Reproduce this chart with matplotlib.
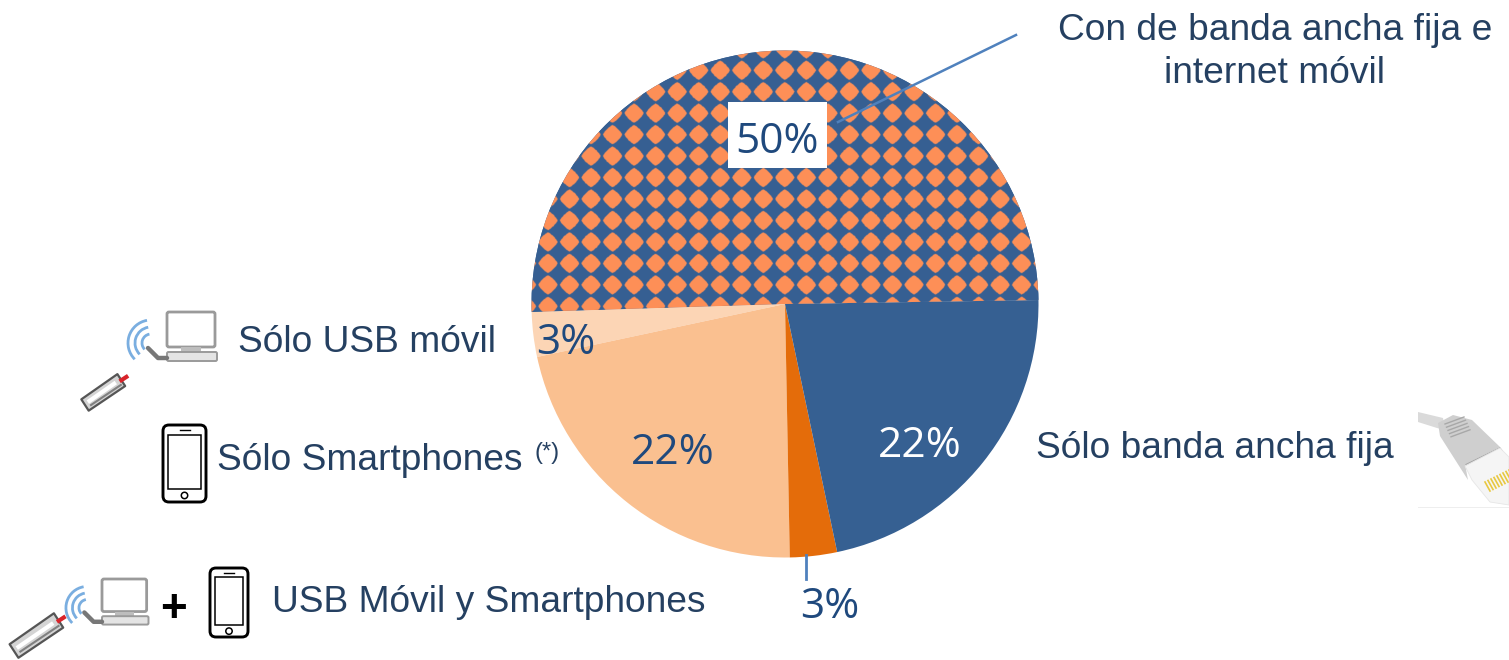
import matplotlib
matplotlib.use('Agg')
import matplotlib.pyplot as plt
import numpy as np
from matplotlib.colors import to_rgb
from matplotlib.patches import FancyBboxPatch, Polygon, Rectangle, Arc, Circle

# slice shares, counter clockwise from the right
shares = [50.25, 2.85, 21.95, 3.0, 21.95]
pct_labels = ['50%', '3%', '22%', '3%', '22%']
slice_colors = ['#366092', '#fcd5b5', '#fac090', '#e46c0a', '#366092']
category_labels = ['Con de banda ancha fija e\ninternet móvil', 'Sólo USB móvil', 'Sólo Smartphones',
                   'USB Móvil y Smartphones', 'Sólo banda ancha fija']

W, H = 1509, 660
BLUE = '#366092'
ORANGE = '#fd8f57'
TXT = '#254061'
PCT = '#1f497d'


def yy(py):
    # picture pixels count from the top, the axes from the bottom
    return H - py


def draw_phone(ax, x, y, w, h):
    lw = 2.1
    ax.add_patch(FancyBboxPatch((x + 5, yy(y + h) + 5), w - 10, h - 10, boxstyle='round,pad=5,rounding_size=6',
                                fc='white', ec='black', lw=lw, zorder=5))
    ax.add_patch(Rectangle((x + 5, yy(y + h * 0.83)), w - 10, h * 0.70, fc='white', ec='black', lw=1.1, zorder=6))
    ax.add_patch(Circle((x + w / 2, yy(y + h * 0.915)), 3.2, fc='white', ec='black', lw=1.1, zorder=6))
    ax.plot([x + w / 2 - 5, x + w / 2 + 5], [yy(y + h * 0.07)] * 2, color='black', lw=1, zorder=6)


def draw_pc(ax, x, y, s=1.0):
    # small desktop computer with its cable and wireless arcs, x, y is top left of the screen
    g = '#9a9a9a'
    ax.add_patch(FancyBboxPatch((x, yy(y + 35 * s)), 48 * s, 35 * s, boxstyle='round,pad=0,rounding_size=2',
                                fc='white', ec=g, lw=2, zorder=5))
    ax.add_patch(Rectangle((x + 14 * s, yy(y + 41 * s)), 20 * s, 6 * s, fc='#bdbdbd', ec='none', zorder=5))
    ax.add_patch(FancyBboxPatch((x, yy(y + 49 * s)), 50 * s, 9 * s, boxstyle='round,pad=0,rounding_size=1.5',
                                fc='#e4e4e4', ec=g, lw=1.4, zorder=5))
    ax.plot([x - 19 * s, x - 9 * s, x], [yy(y + 36 * s), yy(y + 46 * s), yy(y + 46 * s)],
            color='#777777', lw=3.2, solid_capstyle='round', zorder=5)
    for r in (9, 16, 23):
        ax.add_patch(Arc((x - 19 * s + 3, yy(y + 31 * s)), 2 * r * s, 2 * r * s, theta1=100, theta2=225,
                         color='#7aaee0', lw=2, zorder=5))


def draw_usb(ax, x, y, length, thick):
    # stick drawn along a line going up right from its lower left end
    a = np.radians(33)
    u = np.array([np.cos(a), np.sin(a)])
    v = np.array([-u[1], u[0]])
    p0 = np.array([x, yy(y)])
    body = [p0 + v * thick * 0.45, p0 + u * length + v * thick * 0.55, p0 + u * length - v * thick * 0.4,
            p0 - v * thick * 0.45]
    ax.add_patch(Polygon(body, closed=True, fc='#d4d4d4', ec='#555555', lw=1.6, joinstyle='round', zorder=5))
    ax.plot(*zip(p0 + u * 6 + v * 1, p0 + u * (length - 8) + v * 2), color='white', lw=3, zorder=6)
    ax.plot(*zip(p0 + u * 5 - v * thick * 0.22, p0 + u * (length - 3) - v * thick * 0.18), color='#808080', lw=1.5,
            zorder=6)
    ax.plot(*zip(p0 + u * length + v * 1, p0 + u * (length + 6) + v * 1), color='#d8232a', lw=3, zorder=5)


def draw_plug(ax):
    # network cable plug, partly cut by the right edge
    ax.add_patch(Rectangle((1418, yy(508)), 91, 1.5, fc='#eeeeee', ec='none', zorder=4))
    ax.add_patch(Polygon([(1418, yy(412)), (1443, yy(418)), (1445, yy(430)), (1437, yy(428)), (1418, yy(422))],
                         fc='#dadada', ec='none', zorder=4))
    ax.add_patch(Polygon([(1438, yy(423)), (1453, yy(415)), (1472, yy(420)), (1500, yy(447)), (1465, yy(464)),
                          (1468, yy(480)), (1440, yy(436))], fc='#cfcfcf', ec='none', zorder=5))
    ax.add_patch(Polygon([(1465, yy(464)), (1500, yy(447)), (1503, yy(451)), (1467, yy(470))],
                         fc='#a9a9a9', ec='none', zorder=6))
    for i in range(5):
        ax.plot([1445 + i * 1.5, 1464 + i * 1.5], [yy(424 + i * 3.2), yy(417 + i * 3.2)], color='#a8a8a8', lw=1,
                zorder=6)
    ax.add_patch(Polygon([(1465, yy(466)), (1500, yy(448)), (1509, yy(457)), (1509, yy(505)), (1490, yy(502)),
                          (1472, yy(480))], fc='#f5f5f5', ec='#e6e6e6', lw=0.6, zorder=6))
    for i in range(9):
        ax.plot([1485 + i * 3, 1490 + i * 3], [yy(482 - i * 1.5), yy(491 - i * 1.5)], color='#e8c840', lw=1.2, zorder=7)


fig = plt.figure(figsize=(W / 100, H / 100), dpi=100)
ax = fig.add_axes([0, 0, 1, 1])

cx, cy, radius = 785, yy(304), 253.5
wedges, _ = ax.pie(shares, colors=slice_colors, startangle=0.9, counterclock=True,
                   center=(cx, cy), radius=radius, frame=True)
ax.axis('off')

# pattern fill of the big slice, orange diamonds on a square grid
step_x, step_y = 21.53, 21.46
xs, ys = np.meshgrid(np.arange(520, 1050, 0.5), np.arange(40, 320, 0.5))
dx = np.abs((xs - 720 + step_x / 2) % step_x - step_x / 2)
dy = np.abs((ys - 70 + step_y / 2) % step_y - step_y / 2)
# sides bulge a little, as in the reference
mask = (dx ** 1.25 + dy ** 1.25) < 9.6 ** 1.25
rgb = np.where(mask[..., None], np.array(to_rgb(ORANGE)), np.array(to_rgb(BLUE)))
im = ax.imshow(rgb, extent=(520, 1050, yy(320), yy(40)), origin='upper', interpolation='bilinear', zorder=2)
im.set_clip_path(wedges[0])
ax.set_xlim(0, W)
ax.set_ylim(0, H)
ax.set_aspect('auto')

# percent labels
ax.add_patch(Rectangle((728, yy(168)), 99, 66, fc='white', ec='none', zorder=3))
pct_font = dict(family='Open Sans', fontsize=30.5, ha='center', va='center', zorder=8)
ax.text(777, yy(142), pct_labels[0], color=PCT, **pct_font)
ax.text(566, yy(343), pct_labels[1], color=PCT, **pct_font)
ax.text(673, yy(453), pct_labels[2], color=PCT, **pct_font)
ax.text(830, yy(607), pct_labels[3], color=PCT, **pct_font)
ax.text(920, yy(446), pct_labels[4], color='white', **pct_font)

# leader lines
ax.plot([838, 1016], [yy(122), yy(35)], color='#4f81bd', lw=1.8, zorder=4)
ax.plot([806, 806], [yy(555), yy(579)], color='#4f81bd', lw=2, zorder=4)

# category labels
lab_font = dict(family='Liberation Sans', fontsize=26.7, color=TXT, va='center', zorder=8)
ax.text(1275, yy(52), category_labels[0], ha='center', linespacing=1.3, **lab_font)
ax.text(238, yy(343), category_labels[1], ha='left', **lab_font)
ax.text(217, yy(461), category_labels[2], ha='left', **lab_font)
ax.text(534, yy(453), '(*)', family='Liberation Sans', fontsize=17, color=TXT, ha='left', va='center')
ax.text(272, yy(603), category_labels[3], ha='left', **lab_font)
ax.text(1036, yy(449), category_labels[4], ha='left', **lab_font)

# icons
draw_pc(ax, 167, 312)
draw_usb(ax, 85, 405, 44, 15)
draw_phone(ax, 163, 425, 43, 77)
draw_pc(ax, 102, 579, 0.93)
draw_usb(ax, 14, 651, 54, 18)
ax.text(173, yy(610), '+', family='Liberation Sans', fontsize=33, fontweight='bold', color='black',
        ha='center', va='center')
draw_phone(ax, 210, 568, 38, 69)
draw_plug(ax)

fig.savefig('out.png', dpi=100)
